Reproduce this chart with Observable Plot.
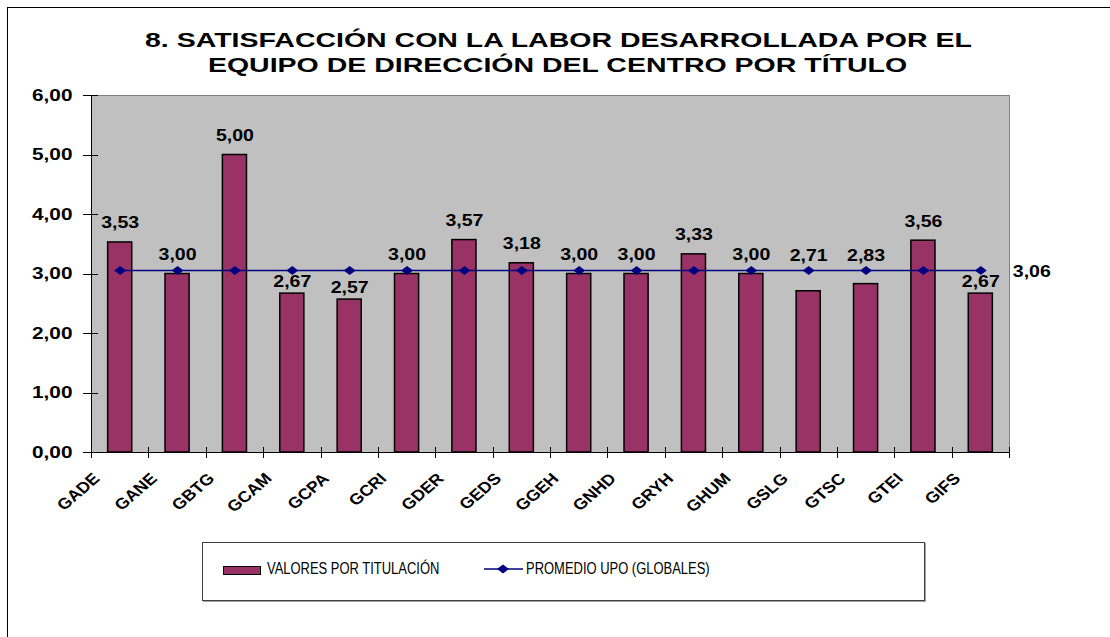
<!DOCTYPE html>
<html><head><meta charset="utf-8">
<script src="https://cdn.jsdelivr.net/npm/d3@7"></script>
<script src="https://cdn.jsdelivr.net/npm/@observablehq/plot@0.6"></script>
<style>
html,body{margin:0;padding:0;background:#fff;overflow:hidden;}
#wrap{position:relative;width:1110px;height:637px;overflow:hidden;font-family:"Liberation Sans",Arial,sans-serif;color:#000;}
#outer{position:absolute;left:7px;top:7px;width:1200px;height:700px;border:1px solid #000;box-sizing:border-box;}
#chart{position:absolute;left:0;top:0;}
#title{position:absolute;left:0;width:1116px;top:27px;text-align:center;font-weight:bold;font-size:20.5px;line-height:25px;white-space:nowrap;}
#title span{display:inline-block;transform:scaleX(1.39);transform-origin:center;}
#legend{position:absolute;left:202px;top:542px;width:723px;height:59px;box-sizing:border-box;border:1px solid #404040;box-shadow:1px 1px 0 #a0a0a0;background:#fff;}
.swatch{position:absolute;left:223px;top:566px;width:38px;height:9px;background:#993366;border:1px solid #000;box-sizing:border-box;}
.ltext{position:absolute;top:561px;font-size:16px;line-height:16px;white-space:nowrap;}
.ltext span{display:inline-block;transform:scaleX(0.81);transform-origin:left center;}
#lsample{position:absolute;left:484px;top:564px;}
</style>
</head><body>
<div id="wrap">
  <div id="outer"></div>
  <div id="chart"></div>
  <div id="title"></div>
  <div id="legend"></div>
</div>
<script>
const titleLines = ["8. SATISFACCIÓN CON LA LABOR DESARROLLADA POR EL", "EQUIPO DE DIRECCIÓN DEL CENTRO POR TÍTULO"];
const categories = ["GADE","GANE","GBTG","GCAM","GCPA","GCRI","GDER","GEDS","GGEH","GNHD","GRYH","GHUM","GSLG","GTSC","GTEI","GIFS"];
const values = [3.53, 3.00, 5.00, 2.67, 2.57, 3.00, 3.57, 3.18, 3.00, 3.00, 3.33, 3.00, 2.71, 2.83, 3.56, 2.67];
const average = 3.06;
const yTicks = [0, 1, 2, 3, 4, 5, 6];
const seriesNames = ["VALORES POR TITULACIÓN", "PROMEDIO UPO (GLOBALES)"];
// label placement as in the original (some labels sit below or above the average line)
const labelsBelowLine = new Set(["GCAM", "GCPA", "GIFS"]);
const labelsOnLine = new Set(["GSLG", "GTSC"]);

const BAR = "#993366", LINE = "#000080";
const data = categories.map((c, i) => ({cat: c, value: values[i], avg: average}));
const fmt = v => v.toFixed(2).replace(".", ",");
const diamond = {draw(ctx) { ctx.moveTo(0, -4.5); ctx.lineTo(6, 0); ctx.lineTo(0, 4.5); ctx.lineTo(-6, 0); ctx.closePath(); }};

const axes = (index, scales, vals, dims) => {
  const x = scales.x, y = scales.y;
  const left = dims.marginLeft, right = dims.width - dims.marginRight;
  const top = dims.marginTop, bottom = dims.height - dims.marginBottom;
  const step = x.step(), bw = x.bandwidth();
  const bounds = categories.map(c => x(c) + bw / 2 - step / 2);
  bounds.push(x(categories[categories.length - 1]) + bw / 2 + step / 2);
  const g = d3.create("svg:g").attr("stroke", "#000").attr("shape-rendering", "crispEdges");
  const px = v => Math.round(v) + 0.5;
  bounds.forEach(b => g.append("line").attr("x1", px(b)).attr("x2", px(b)).attr("y1", bottom - 5).attr("y2", bottom + 6));
  yTicks.forEach(t => g.append("line").attr("x1", left - 8).attr("x2", left + 7).attr("y1", px(y(t))).attr("y2", px(y(t))));
  g.append("line").attr("x1", px(left)).attr("x2", px(left)).attr("y1", top).attr("y2", bottom + 1);
  g.append("line").attr("x1", left).attr("x2", right + 1).attr("y1", px(bottom)).attr("y2", px(bottom));
  return g.node();
};

const textBase = {fontSize: 16, fontWeight: "bold", fill: "#000", lineAnchor: "bottom", textAnchor: "middle"};

const plot = Plot.plot({
  width: 1110, height: 637,
  marginLeft: 91, marginRight: 101, marginTop: 95, marginBottom: 185,
  style: {background: "transparent", fontFamily: "'Liberation Sans', Arial, sans-serif", overflow: "visible"},
  x: {domain: categories, paddingInner: 0.58, paddingOuter: 0.29, round: false, axis: null},
  y: {domain: [0, 6], axis: null},
  marks: [
    Plot.frame({fill: "#C0C0C0", stroke: "#808080"}),
    Plot.barY(data, {x: "cat", y: "value", fill: BAR, stroke: "#000", strokeWidth: 1.5}),
    Plot.lineY(data, {x: "cat", y: "avg", stroke: LINE, strokeWidth: 1.5}),
    Plot.dot(data, {x: "cat", y: "avg", symbol: diamond, fill: LINE, stroke: "none"}),
    axes,
    Plot.axisY(yTicks, {tickSize: 0, tickPadding: 19, tickFormat: fmt, fontSize: 16, fontWeight: "bold", label: null}),
    Plot.text(categories, {x: d => d, frameAnchor: "bottom", rotate: -45, textAnchor: "end", lineAnchor: "bottom", dx: -19.5, dy: 27, fontSize: 15.5, fontWeight: "bold", fill: "#000"}),
    Plot.text(data.filter(d => !labelsBelowLine.has(d.cat) && !labelsOnLine.has(d.cat)), {...textBase, x: "cat", y: "value", text: d => fmt(d.value), dy: -14}),
    Plot.text(data.filter(d => labelsBelowLine.has(d.cat)), {...textBase, x: "cat", y: "value", text: d => fmt(d.value), dy: -7}),
    Plot.text(data.filter(d => labelsOnLine.has(d.cat)), {...textBase, x: "cat", y: "avg", text: d => fmt(d.value), dy: -9}),
    Plot.text([average], {x: () => categories[categories.length - 1], y: d => d, text: fmt, dx: 32, dy: 1, textAnchor: "start", lineAnchor: "middle", fontSize: 16, fontWeight: "bold", fill: "#000"})
  ]
});

// horizontal stretch of the text, as in the original rendering
plot.querySelectorAll("text").forEach(t => {
  const tr = t.getAttribute("transform") || "";
  const isYAxis = !!t.closest('g[aria-label="y-axis tick label"]');
  const s = /rotate/.test(tr) ? 1.15 : isYAxis ? 1.3 : 1.22;
  if (/^translate\([^)]*\)/.test(tr)) {
    t.setAttribute("transform", tr.replace(/^(translate\([^)]*\))/, `$1 scale(${s},1)`));
  } else {
    const x = +(t.getAttribute("x") || 0), y = +(t.getAttribute("y") || 0);
    t.removeAttribute("x"); t.removeAttribute("y");
    t.setAttribute("transform", `translate(${x},${y}) scale(${s},1) ${tr}`);
  }
});
document.getElementById("chart").appendChild(plot);

document.getElementById("title").innerHTML = titleLines.map(l => `<div><span>${l}</span></div>`).join("");

const wrap = document.getElementById("wrap");
const sw = document.createElement("div"); sw.className = "swatch"; wrap.appendChild(sw);
const t1 = document.createElement("div"); t1.className = "ltext"; t1.style.left = "267px"; t1.innerHTML = `<span>${seriesNames[0]}</span>`; wrap.appendChild(t1);
const ls = d3.create("svg").attr("id", "lsample").attr("width", 40).attr("height", 10);
ls.append("line").attr("x1", 0).attr("x2", 39).attr("y1", 5).attr("y2", 5).attr("stroke", LINE).attr("stroke-width", 1.5);
ls.append("path").attr("d", "M19,0.5L25,5L19,9.5L13,5Z").attr("fill", LINE);
wrap.appendChild(ls.node());
const t2 = document.createElement("div"); t2.className = "ltext"; t2.style.left = "526px"; t2.innerHTML = `<span>${seriesNames[1]}</span>`; wrap.appendChild(t2);
</script>
</body></html>
